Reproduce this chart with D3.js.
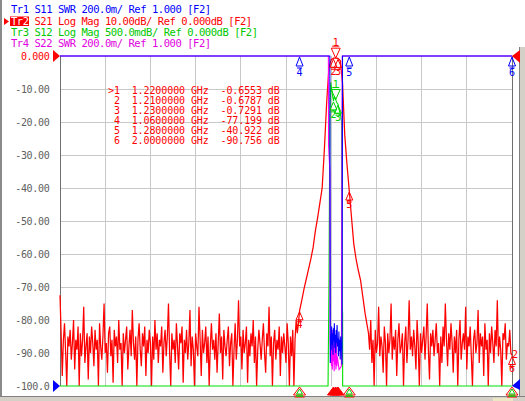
<!DOCTYPE html>
<html><head><meta charset="utf-8">
<script src="https://cdn.jsdelivr.net/npm/d3@7/dist/d3.min.js"></script>
<style>
body{margin:0;background:#fff;overflow:hidden;}
svg{display:block;}
text{font-family:"DejaVu Sans Mono",monospace;white-space:pre;}
</style></head><body>
<svg id="c" width="525" height="401"></svg>
<script>
// ---------------- DATA ----------------
const sweepStart = 0, sweepStop = 2;   // GHz
// S21 (dB) noise floor, 0.000 .. 1.055 GHz every 0.005 GHz
const s21LeftStart = 0, s21LeftStep = 0.005;
const s21NoiseLeft = [
-72.5,-84,-97,-86,-81,-90,-100,-85,-88,-83,
-92,-87,-80,-95,-86,-89,-82,-100,-84,-91,
-86,-76,-93,-88,-84,-98,-85,-90,-82,-87,
-94,-83,-89,-86,-100,-81,-88,-92,-85,-75,
-90,-87,-96,-84,-82,-91,-86,-99,-83,-88,
-85,-93,-80,-89,-87,-100,-84,-90,-86,-82,
-95,-88,-83,-91,-77,-87,-92,-85,-100,-86,
-81,-89,-94,-84,-88,-82,-97,-86,-90,-83,
-87,-100,-85,-92,-80,-89,-84,-93,-86,-88,
-82,-96,-87,-83,-91,-85,-75,-90,-100,-84,
-89,-86,-93,-81,-88,-95,-84,-87,-82,-99,
-86,-90,-83,-92,-87,-77,-94,-85,-89,-100,
-84,-88,-91,-76,-86,-97,-83,-90,-87,-82,
-93,-85,-100,-88,-81,-89,-86,-92,-84,-96,
-87,-78,-90,-85,-98,-83,-88,-91,-86,-82,
-94,-87,-84,-100,-89,-81,-92,-86,-74,-88,
-85,-95,-83,-90,-87,-82,-99,-86,-91,-84,
-88,-80,-93,-85,-100,-89,-83,-87,-92,-86,
-81,-90,-96,-84,-88,-76,-91,-85,-100,-87,
-83,-92,-86,-89,-82,-97,-85,-90,-84,-88,
-93,-81,-87,-100,-85,-91,-83,-100,-86,-80,
-84,-81];
// S21 (dB) filter response, 1.06 .. 1.36 GHz every 0.01 GHz
const s21BandStart = 1.06, s21BandStep = 0.01;
const s21Passband = [-77.199,-74,-70.5,-67.5,-64.5,-61.5,-58,-53,-49,-44.5,
-40,-28,-14,-3.5,-1.1,-0.6787,-0.6553,-0.7291,-1.4,-8,
-24,-33,-40.922,-49,-57,-61.5,-65,-68,-73,-78,-82];
// S21 (dB) noise floor, 1.365 .. 2.000 GHz every 0.005 GHz
const s21RightStart = 1.365, s21RightStep = 0.005;
const s21NoiseRight = [
-84,-89,-80,-93,-86,-100,-83,-90,-87,-76,
-91,-85,-88,-96,-82,-87,-100,-84,-90,-86,
-75,-92,-85,-89,-83,-97,-86,-81,-90,-88,
-84,-100,-87,-82,-93,-86,-74,-89,-85,-91,
-83,-88,-95,-80,-87,-100,-84,-90,-86,-82,
-92,-85,-75,-89,-98,-84,-88,-83,-91,-86,
-81,-90,-87,-100,-85,-93,-82,-88,-75,-86,
-94,-84,-89,-81,-87,-96,-85,-90,-83,-100,
-86,-80,-92,-87,-84,-89,-76,-95,-85,-88,
-82,-91,-100,-86,-83,-90,-87,-77,-93,-84,
-88,-85,-97,-81,-89,-86,-100,-84,-90,-82,
-87,-93,-83,-88,-74,-91,-85,-89,-100,-84,
-86,-81,-92,-87,-88,-83,-90,-90.756];

// S12 (dB)
const s12Freq = [0, 1.186, 1.190, 1.194, 1.198, 1.202, 1.206, 1.210, 1.214, 1.218, 1.220, 1.224, 1.228, 1.230, 1.234, 1.238, 1.242, 1.246, 1.2484, 1.2505, 1.2507, 1.260, 2.0];
const s12Vals = [-85, -20, -3.5, -1.0, -0.40, -0.50, -0.60, -0.68, -0.62, -0.64, -0.66, -0.70, -0.72, -0.73, -0.80, -0.85, -0.9, -1.0, -3.8, -3.9, -9, -25, -90];

// S11 SWR
const s11Freq = [0, 1.194, 1.196,1.198,1.200,1.202,1.204,1.206,1.208,1.210,1.212,1.214,1.216,1.218,1.220,1.222,1.224,1.226,1.228,1.230,1.232,1.234,1.236,1.238,1.240,1.242,1.244,1.246,1.248, 1.250, 2.0];
const s11Vals = [10, 10, 1.14,1.30,1.22,1.36,1.25,1.32,1.19,1.35,1.27,1.38,1.23,1.31,1.20,1.34,1.26,1.37,1.24,1.29,1.18,1.33,1.21,1.28,1.16,1.30,1.22,1.26,1.13, 10, 10];

// S22 SWR
const s22Freq = [0, 1.1875, 1.1882, 1.1944, 1.1955, 1.197,1.199,1.201,1.203,1.205,1.207,1.209,1.211,1.213,1.215,1.217,1.219,1.221,1.223,1.225,1.227, 1.235, 1.245, 1.249, 2.0];
const s22Vals = [10, 10, 2.46, 2.3, 1.3, 1.20,1.32,1.12,1.28,1.10,1.34,1.15,1.25,1.09,1.30,1.13,1.22,1.10,1.27,1.12,1.18, 1.10, 1.12, 10, 10];

// markers
const markerNames = [">1", " 2", " 3", " 4", " 5", " 6"];
const markerFreqs = [1.22, 1.21, 1.23, 1.06, 1.28, 2.0];
const markerS21 = [-0.6553, -0.6787, -0.7291, -77.199, -40.922, -90.756];
const markerS21Text = ["-0.6553", "-0.6787", "-0.7291", "-77.199", "-40.922", "-90.756"];

// axis
const yTickVals = [0, -10, -20, -30, -40, -50, -60, -70, -80, -90, -100];
const yTickLabels = ["0.000", "-10.00", "-20.00", "-30.00", "-40.00", "-50.00", "-60.00", "-70.00", "-80.00", "-90.00", "-100.0"];
const xGridVals = [0.2, 0.4, 0.6, 0.8, 1.0, 1.2, 1.4, 1.6, 1.8];

// trace header
const traceIds = ["Tr1", "Tr2", "Tr3", "Tr4"];
const traceText = [" S11 SWR 200.0m/ Ref 1.000 [F2]",
                   " S21 Log Mag 10.00dB/ Ref 0.000dB [F2]",
                   " S12 Log Mag 500.0mdB/ Ref 0.000dB [F2]",
                   " S22 SWR 200.0m/ Ref 1.000 [F2]"];
const traceColors = ["#0000ff", "#ff0000", "#00c800", "#e000e0"];

// ---------------- DRAW ----------------
const svg = d3.select("#c");
const L = 60, R = 512, T = 56, B = 386;
const x = d3.scaleLinear().domain([sweepStart, sweepStop]).range([L, R]);
const yLog = d3.scaleLinear().domain([-100, 0]).range([B, T]).clamp(true);
const yS12 = d3.scaleLinear().domain([-5, 0]).range([B, T]).clamp(true);
const ySWR = d3.scaleLinear().domain([1, 3]).range([B, T]).clamp(true);

svg.append("rect").attr("width", 525).attr("height", 401).attr("fill", "#fff");

// window frame
svg.append("rect").attr("x", 0).attr("y", 0).attr("width", 2).attr("height", 401).attr("fill", "#8a8a8a");
svg.append("rect").attr("x", 519).attr("y", 47).attr("width", 6).attr("height", 354).attr("fill", "#d4d0c8");
svg.append("rect").attr("x", 519).attr("y", 47).attr("width", 1).attr("height", 350).attr("fill", "#808080");
svg.append("rect").attr("x", 0).attr("y", 397).attr("width", 525).attr("height", 4).attr("fill", "#d4d0c8");
svg.append("rect").attr("x", 0).attr("y", 396).attr("width", 525).attr("height", 1).attr("fill", "#808080");
svg.append("rect").attr("x", 493).attr("y", 398).attr("width", 20).attr("height", 3).attr("fill", "#ece6c4");

// grid
const grid = svg.append("g").attr("stroke", "#c8c8c8").attr("stroke-width", 1).attr("shape-rendering", "crispEdges");
grid.selectAll("line.v").data(xGridVals).join("line")
  .attr("x1", d => x(d)).attr("x2", d => x(d)).attr("y1", T).attr("y2", B);
grid.selectAll("line.h").data(yTickVals.slice(1, -1)).join("line").attr("class", "h")
  .attr("x1", L).attr("x2", R).attr("y1", d => yLog(d)).attr("y2", d => yLog(d));

// plot borders
svg.append("g").attr("stroke", "#707070").attr("shape-rendering", "crispEdges")
  .selectAll("line").data([L, R]).join("line")
  .attr("x1", d => d).attr("x2", d => d).attr("y1", T).attr("y2", B);

// y labels
svg.append("g").selectAll("text").data(yTickVals).join("text")
  .attr("x", 49.5).attr("y", d => yLog(d)).attr("dy", "0.36em")
  .attr("text-anchor", "end").attr("font-size", 10).attr("letter-spacing", -0.3)
  .attr("fill", (d, i) => i === 0 ? "#ff0000" : "#606060")
  .text((d, i) => yTickLabels[i]);

// traces
const seg = (start, step, vals) => vals.map((v, i) => [start + i * step, v]);
const s21Points = seg(s21LeftStart, s21LeftStep, s21NoiseLeft)
  .concat(seg(s21BandStart, s21BandStep, s21Passband), seg(s21RightStart, s21RightStep, s21NoiseRight));

function trace(points, yScale, color, w) {
  const line = d3.line().x(d => x(d[0])).y(d => yScale(d[1]));
  svg.append("path").datum(points)
    .attr("d", line).attr("fill", "none").attr("stroke", color).attr("stroke-width", w || 1.1);
}
const zipPts = (fs, vs) => fs.map((f, i) => [f, vs[i]]);
trace(s21Points, yLog, "#ff0000", 1.25);
trace(zipPts(s12Freq, s12Vals), yS12, "#00e000");
trace(zipPts(s22Freq, s22Vals), ySWR, "#ff00ff");
trace(zipPts(s11Freq, s11Vals), ySWR, "#0000ff");

// marker symbol helper
function tri(cx, tipY, dir, w, h, color, filled) {
  const by = tipY - dir * h;
  svg.append("path")
    .attr("d", `M${cx},${tipY}L${cx - w / 2},${by}L${cx + w / 2},${by}Z`)
    .attr("fill", filled ? color : "none").attr("stroke", color).attr("stroke-width", 1);
  if (!filled) {
    svg.append("line").attr("x1", cx - w / 2 + 1).attr("x2", cx + w / 2 - 1)
      .attr("y1", by - dir * 2).attr("y2", by - dir * 2).attr("stroke", color);
  }
}
function mlabel(cx, y, txt, color) {
  svg.append("text").attr("x", cx).attr("y", y).attr("text-anchor", "middle")
    .attr("font-size", 10).attr("fill", color).text(txt);
}
const s12At = f => s12Vals[s12Freq.indexOf(f)];

// red (Tr2) markers
const red = "#ff0000";
markerFreqs.forEach((f, i) => {
  const cx = x(f), ty = yLog(markerS21[i]);
  if (i === 0) {
    tri(cx, ty, 1, 9, 10, red, false);
    mlabel(cx, ty - 12, "1", red);
  } else {
    tri(cx, ty + 1, -1, 7, 8, red, false);
    mlabel(cx, ty + 17, String(i + 1), red);
  }
});
mlabel(515, 358, "2", red);

// green (Tr3) markers
const green = "#00d000";
[0, 1, 2].forEach(i => {
  const f = markerFreqs[i], cx = x(f), ty = yS12(s12At(f));
  if (i === 0) {
    tri(cx, ty, 1, 9, 10, green, false);
    mlabel(cx, ty - 12, "1", green);
  } else {
    tri(cx, ty + 1, -1, 7, 8, green, false);
    mlabel(cx, ty + 17, String(i + 1), green);
  }
});

// blue (Tr1) markers at the clipped top
const blue = "#0000ff";
[3, 4, 5].forEach(i => {
  const cx = x(markerFreqs[i]);
  tri(cx, T + 1, -1, 7, 9, blue, false);
  mlabel(cx, T + 20, String(i + 1), blue);
});

// stimulus indicators at bottom
[3, 4, 5].forEach(i => {
  const cx = x(markerFreqs[i]);
  tri(cx, B + 1, -1, 12, 8, red, false);
  svg.append("path").attr("d", `M${cx},${B + 3}L${cx - 3},${B + 8}L${cx + 3},${B + 8}Z`)
    .attr("fill", "none").attr("stroke", "#00d000");
  svg.append("line").attr("x1", cx - 3.5).attr("x2", cx + 3.5).attr("y1", B + 10).attr("y2", B + 10)
    .attr("stroke", "#00d000").attr("stroke-width", 1.5);
});
[1, 2, 0].forEach(i => {
  const cx = x(markerFreqs[i]);
  tri(cx, B + 1, -1, 12, 8, red, true);
});

// reference position triangles
svg.append("path").attr("d", `M${L},${T}L${L - 7},${T - 6}L${L - 7},${T + 6}Z`).attr("fill", red);
svg.append("path").attr("d", `M${L},${B}L${L - 7},${B - 6}L${L - 7},${B + 6}Z`).attr("fill", blue);
svg.append("path").attr("d", `M${R},${T}L${R + 8},${T - 6}L${R + 8},${T + 7}Z`).attr("fill", red);
svg.append("path").attr("d", `M${R},${B}L${R + 8},${B - 7}L${R + 8},${B + 4}Z`).attr("fill", blue);

// marker table
const tbl = svg.append("g").attr("font-size", 10).attr("letter-spacing", -0.1).attr("fill", red);
markerNames.forEach((n, i) => {
  tbl.append("text").attr("x", 108).attr("y", 94 + i * 10)
    .text(`${n}  ${markerFreqs[i].toFixed(7)} GHz  ${markerS21Text[i]} dB`);
});

// trace header
const baselines = [12.5, 24.5, 35.8, 46.8];
svg.append("rect").attr("x", 10).attr("y", 16.5).attr("width", 19).attr("height", 9.5).attr("fill", red);
svg.append("path").attr("d", "M9,21.5L4,18L4,25Z").attr("fill", red);
traceIds.forEach((id, i) => {
  const t = svg.append("text").attr("x", 11).attr("y", baselines[i])
    .attr("font-size", 10.5).attr("letter-spacing", -0.45).attr("fill", traceColors[i]);
  t.append("tspan").attr("fill", i === 1 ? "#ffffff" : traceColors[i]).text(id);
  t.append("tspan").text(traceText[i]);
});
</script>
</body></html>
